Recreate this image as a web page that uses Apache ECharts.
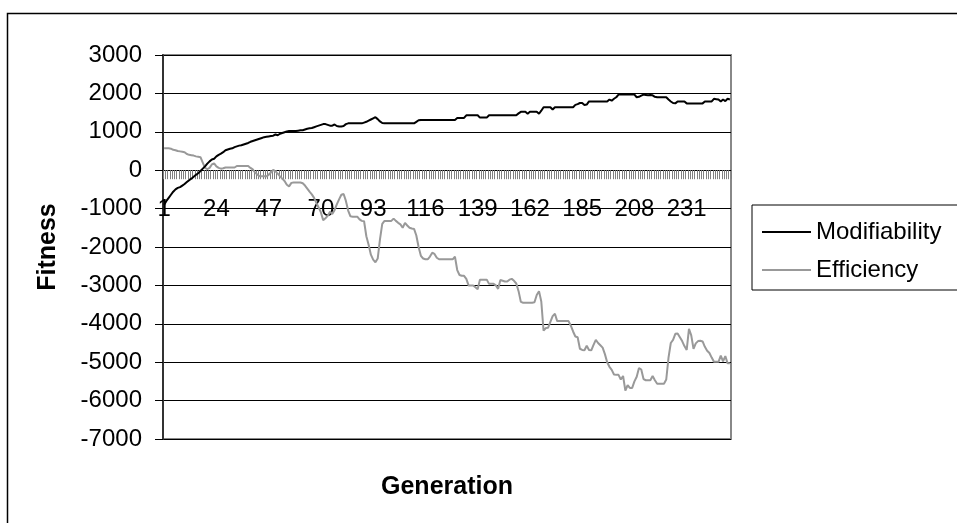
<!DOCTYPE html>
<html>
<head>
<meta charset="utf-8">
<script src="https://cdn.jsdelivr.net/npm/echarts@6/dist/echarts.min.js"></script>
<style>
html,body{margin:0;padding:0;background:#fff;}
#chart{width:957px;height:523px;}
</style>
</head>
<body>
<div id="chart"></div>
<script>
// ---- data ----
var generationCount = 250;
var labelEvery = 23;
var categories = [];
for (var i = 1; i <= generationCount; i++) categories.push(String(i));

var yTicks = { min: -7000, max: 3000, step: 1000 };

var modifiability = [
  -900,-800,-720,-640,-560,-500,-460,-440,-400,-360,
  -310,-260,-220,-170,-120,-80,-20,40,100,170,
  230,280,300,360,400,430,470,520,540,560,
  570,600,620,640,650,670,690,710,740,760,
  780,800,820,840,860,870,880,890,900,930,
  910,950,970,990,1010,1020,1020,1020,1020,1030,
  1040,1040,1060,1080,1090,1100,1120,1140,1160,1180,
  1200,1200,1180,1160,1160,1190,1150,1140,1140,1150,
  1200,1220,1220,1220,1220,1220,1220,1220,1240,1260,
  1290,1320,1350,1380,1330,1270,1230,1220,1220,1220,
  1220,1220,1220,1220,1220,1220,1220,1220,1220,1220,
  1220,1260,1300,1310,1310,1310,1310,1310,1310,1310,
  1310,1310,1310,1310,1310,1310,1310,1310,1310,1360,
  1360,1360,1360,1430,1430,1430,1430,1430,1430,1370,
  1370,1370,1370,1430,1430,1430,1430,1430,1430,1430,
  1430,1430,1430,1430,1430,1430,1480,1520,1520,1520,
  1470,1520,1520,1520,1520,1470,1550,1640,1640,1640,
  1640,1580,1640,1640,1640,1640,1640,1640,1640,1640,
  1640,1700,1720,1750,1750,1700,1710,1790,1790,1790,
  1790,1790,1790,1790,1790,1790,1840,1810,1860,1900,
  1970,1970,1970,1970,1970,1970,1970,1970,1900,1910,
  1940,1970,1960,1950,1960,1950,1910,1900,1900,1900,
  1900,1900,1840,1790,1750,1740,1790,1790,1790,1790,
  1740,1740,1740,1740,1740,1740,1740,1740,1790,1790,
  1790,1790,1860,1850,1840,1790,1840,1800,1860,1840
];

var efficiency = [
  570,570,570,560,530,520,500,490,480,470,
  420,400,390,380,360,350,340,200,60,30,
  60,150,180,100,60,40,50,70,70,70,
  70,70,110,110,110,110,110,110,60,20,
  -60,-110,-160,-160,-160,-160,-120,-60,10,-30,
  -90,-160,-220,-280,-380,-420,-330,-320,-320,-320,
  -320,-340,-400,-480,-560,-630,-720,-850,-970,-1100,
  -1300,-1250,-1190,-1080,-1140,-1040,-890,-760,-640,-620,
  -800,-1050,-1200,-1210,-1210,-1210,-1280,-1320,-1330,-1720,
  -1940,-2200,-2330,-2400,-2300,-1800,-1400,-1320,-1320,-1320,
  -1320,-1260,-1320,-1370,-1410,-1500,-1370,-1440,-1500,-1520,
  -1530,-1700,-2000,-2230,-2300,-2320,-2320,-2250,-2150,-2180,
  -2280,-2320,-2320,-2320,-2320,-2320,-2320,-2320,-2250,-2600,
  -2730,-2750,-2750,-2830,-3000,-3000,-3000,-3050,-3100,-2850,
  -2850,-2850,-2850,-2960,-2960,-2960,-3000,-3090,-2860,-2880,
  -2900,-2900,-2850,-2830,-2880,-2950,-3150,-3430,-3450,-3450,
  -3450,-3450,-3450,-3440,-3250,-3150,-3420,-4180,-4110,-4100,
  -3950,-3800,-3740,-3930,-3930,-3930,-3930,-3930,-3930,-4050,
  -4200,-4330,-4350,-4650,-4680,-4690,-4570,-4680,-4690,-4550,
  -4420,-4500,-4560,-4620,-4790,-5000,-5120,-5200,-5320,-5330,
  -5330,-5450,-5360,-5740,-5600,-5670,-5670,-5500,-5380,-5150,
  -5190,-5440,-5470,-5470,-5470,-5360,-5470,-5560,-5560,-5560,
  -5560,-5450,-4880,-4500,-4420,-4260,-4250,-4350,-4450,-4580,
  -4680,-4130,-4300,-4650,-4510,-4450,-4440,-4460,-4600,-4700,
  -4760,-4880,-4990,-4990,-4990,-4830,-4980,-4840,-5030,-5030
];

var seriesNames = ['Modifiability', 'Efficiency'];
var axisNames = { x: 'Generation', y: 'Fitness' };

// ---- chart ----
var chart = echarts.init(document.getElementById('chart'), null, { renderer: 'canvas' });
var FONT = 'Liberation Sans, Arial, sans-serif';
chart.setOption({
  animation: false,
  backgroundColor: '#ffffff',
  graphic: [{
    type: 'rect',
    shape: { x: 7.5, y: 13.5, width: 1100, height: 700 },
    style: { fill: 'none', stroke: '#000', lineWidth: 1.5 },
    silent: true, z: 0
  }],
  grid: {
    left: 163, top: 55, width: 568, height: 384,
    show: true, borderColor: '#888', borderWidth: 2, backgroundColor: 'transparent',
    containLabel: false,
    outerBoundsMode: 'none'
  },
  legend: {
    orient: 'vertical',
    left: 752, top: 205,
    data: seriesNames,
    icon: 'rect',
    itemWidth: 49, itemHeight: 2,
    itemGap: 14,
    padding: [15, 40, 8, 10],
    borderColor: '#000', borderWidth: 1,
    textStyle: { fontSize: 24, fontFamily: FONT, color: '#000', padding: [0, 0, 0, 0] },
    selectedMode: false
  },
  xAxis: {
    type: 'category',
    data: categories,
    boundaryGap: true,
    name: axisNames.x,
    nameLocation: 'middle',
    nameGap: 36,
    nameTextStyle: { fontSize: 25, fontWeight: 'bold', fontFamily: FONT, color: '#000' },
    axisLine: { onZero: true, lineStyle: { color: '#000', width: 1 } },
    axisTick: { show: true, interval: 0, length: 9, lineStyle: { color: '#808080', width: 1 } },
    axisLabel: {
      interval: labelEvery - 1, margin: -242, fontSize: 24, fontFamily: FONT, color: '#000',
      hideOverlap: false
    },
    splitLine: { show: false }
  },
  yAxis: {
    type: 'value',
    min: yTicks.min, max: yTicks.max, interval: yTicks.step,
    name: axisNames.y,
    nameLocation: 'middle',
    nameGap: 102,
    nameRotate: 90,
    nameTextStyle: { fontSize: 25, fontWeight: 'bold', fontFamily: FONT, color: '#000' },
    axisLine: { show: true, lineStyle: { color: '#333', width: 2 } },
    axisTick: { show: true, length: 8, lineStyle: { color: '#000', width: 1 } },
    axisLabel: {
      margin: 21, fontSize: 24, fontFamily: FONT, color: '#000',
      hideOverlap: false, showMinLabel: true, showMaxLabel: true,
      formatter: function (v) { return String(v); }
    },
    splitLine: { show: true, lineStyle: { color: '#000', width: 1 } }
  },
  series: [
    {
      name: seriesNames[1], type: 'line', data: efficiency,
      showSymbol: false, symbol: 'none', smooth: false,
      lineStyle: { color: '#999999', width: 2 },
      itemStyle: { color: '#999999' }, z: 3
    },
    {
      name: seriesNames[0], type: 'line', data: modifiability,
      showSymbol: false, symbol: 'none', smooth: false,
      lineStyle: { color: '#000000', width: 2 },
      itemStyle: { color: '#000000' }, z: 4
    }
  ]
});
</script>
</body>
</html>
